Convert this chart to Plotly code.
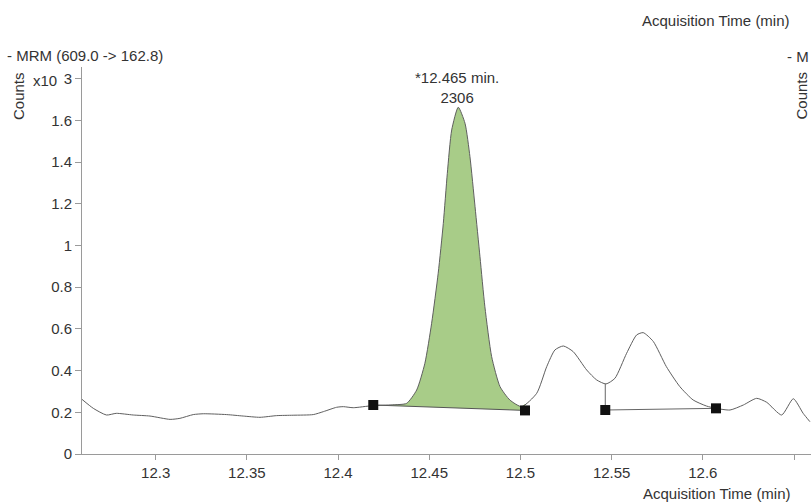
import numpy as np
import plotly.graph_objects as go

# ---- data ----
time_min = [12.2596, 12.2658, 12.2730, 12.2784, 12.2877, 12.2969, 12.3079, 12.3133,
            12.3206, 12.3261, 12.3389, 12.3480, 12.3572, 12.3663, 12.3754, 12.3864,
            12.3919, 12.3992, 12.4029, 12.4083, 12.4190, 12.4300, 12.4376, 12.4431,
            12.4476, 12.4513, 12.4549, 12.4577, 12.4599, 12.4623, 12.4659, 12.4696,
            12.4723, 12.4751, 12.4778, 12.4805, 12.4842, 12.4888, 12.4942, 12.5007,
            12.5089, 12.5144, 12.5189, 12.5235, 12.5289, 12.5363, 12.5418, 12.5469,
            12.5518, 12.5582, 12.5637, 12.5673, 12.5728, 12.5800, 12.5874, 12.5947,
            12.6020, 12.6072, 12.6149, 12.6222, 12.6295, 12.6350, 12.6432, 12.6496,
            12.6550, 12.6587]
counts_k = [0.262, 0.219, 0.187, 0.195, 0.187, 0.182, 0.166, 0.171,
            0.189, 0.193, 0.189, 0.182, 0.176, 0.184, 0.186, 0.189,
            0.203, 0.224, 0.227, 0.222, 0.232, 0.236, 0.243, 0.307,
            0.435, 0.627, 0.867, 1.106, 1.346, 1.554, 1.663, 1.586,
            1.426, 1.186, 0.946, 0.706, 0.467, 0.323, 0.259, 0.227,
            0.291, 0.419, 0.499, 0.518, 0.491, 0.403, 0.355, 0.336,
            0.363, 0.483, 0.571, 0.582, 0.540, 0.419, 0.323, 0.259,
            0.230, 0.219, 0.211, 0.235, 0.267, 0.248, 0.187, 0.265,
            0.195, 0.155]

# integrated peak baseline (start / end markers)
peak_base_t = [12.4193, 12.5025]
peak_base_v = [0.235, 0.209]
# second integration region baseline
peak2_base_t = [12.5465, 12.6072]
peak2_base_v = [0.211, 0.219]
drop_line_top = 0.336

peak_rt = 12.465
peak_area = 2306

x_ticks = [12.3, 12.35, 12.4, 12.45, 12.5, 12.55, 12.6, 12.65]
x_ticktext = ["12.3", "12.35", "12.4", "12.45", "12.5", "12.55", "12.6", ""]
y_ticks = [0, 0.2, 0.4, 0.6, 0.8, 1.0, 1.2, 1.4, 1.6, 1.8]
y_ticktext = ["0", "0.2", "0.4", "0.6", "0.8", "1", "1.2", "1.4", "1.6", "3"]

FONT = "Liberation Sans, Arial, sans-serif"
FS = 15
TXT = "#333333"
AX = "#9a9a9a"

t = np.array(time_min)
v = np.array(counts_k)

# peak segment for fill
mask = (t > peak_base_t[0]) & (t < peak_base_t[1])
seg_t = np.concatenate([[peak_base_t[0]], t[mask], [peak_base_t[1]]])
seg_v = np.concatenate([[np.interp(peak_base_t[0], t, v)], v[mask],
                        [np.interp(peak_base_t[1], t, v)]])

fig = go.Figure()

# baseline (for fill)
fig.add_trace(go.Scatter(x=peak_base_t, y=peak_base_v, mode="lines",
                         line=dict(color="#555555", width=1), hoverinfo="skip"))
fig.add_trace(go.Scatter(x=seg_t, y=seg_v, mode="lines", fill="tonexty",
                         fillcolor="#a8cc88",
                         line=dict(color="rgba(0,0,0,0)", width=0, shape="spline", smoothing=0.6),
                         hoverinfo="skip"))

# main chromatogram line
fig.add_trace(go.Scatter(x=time_min, y=counts_k, mode="lines",
                         line=dict(color="#5f5f5f", width=1, shape="spline", smoothing=0.6)))

# second baseline and drop line
fig.add_trace(go.Scatter(x=peak2_base_t, y=peak2_base_v, mode="lines",
                         line=dict(color="#666666", width=1)))
fig.add_trace(go.Scatter(x=[peak2_base_t[0], peak2_base_t[0]],
                         y=[peak2_base_v[0], drop_line_top], mode="lines",
                         line=dict(color="#666666", width=1)))

# markers
fig.add_trace(go.Scatter(x=peak_base_t + peak2_base_t, y=peak_base_v + peak2_base_v,
                         mode="markers",
                         marker=dict(symbol="square", size=10, color="#111111")))

fig.update_layout(
    width=811, height=502,
    margin=dict(l=82, r=0, t=67, b=48),
    paper_bgcolor="white", plot_bgcolor="white",
    showlegend=False,
    font=dict(family=FONT, size=FS, color=TXT),
    xaxis=dict(range=[12.2596, 12.6593], tickvals=x_ticks, ticktext=x_ticktext,
               showgrid=False, zeroline=False, showline=True, linecolor=AX, linewidth=1,
               ticks="outside", ticklen=5, tickcolor=AX,
               tickfont=dict(family=FONT, size=FS, color=TXT)),
    yaxis=dict(range=[0, 1.856], tickvals=y_ticks, ticktext=y_ticktext,
               showgrid=False, zeroline=False, showline=True, linecolor=AX, linewidth=1,
               ticks="outside", ticklen=6, tickcolor=AX,
               tickfont=dict(family=FONT, size=FS, color=TXT)),
)

ann = [
    dict(x=peak_rt, y=1.758, xref="x", yref="y", text=f"*{peak_rt} min.<br>{peak_area}",
         showarrow=False, xanchor="center", yanchor="middle"),
    dict(x=-0.1056, y=1.031, xref="paper", yref="paper", text="- MRM (609.0 -> 162.8)",
         showarrow=False, xanchor="left", yanchor="middle"),
    dict(x=-0.0878, y=0.925, xref="paper", yref="paper", text="Counts", textangle=-90,
         showarrow=False, xanchor="center", yanchor="middle"),
    dict(x=-0.0508, y=0.966, xref="paper", yref="paper", text="x10",
         showarrow=False, xanchor="center", yanchor="middle"),
    dict(x=0.974, y=1.1214, xref="paper", yref="paper", text="Acquisition Time (min)",
         showarrow=False, xanchor="right", yanchor="middle"),
    dict(x=0.975, y=-0.1008, xref="paper", yref="paper", text="Acquisition Time (min)",
         showarrow=False, xanchor="right", yanchor="middle"),
    dict(x=0.965, y=1.026, xref="paper", yref="paper", text="- M",
         showarrow=False, xanchor="left", yanchor="middle"),
    dict(x=0.987, y=0.925, xref="paper", yref="paper", text="Counts", textangle=-90,
         showarrow=False, xanchor="center", yanchor="middle"),
]
fig.update_layout(annotations=ann)

fig.write_html(
    "out.html",
    config={"displayModeBar": False},
    post_script="document.body.style.margin='0';document.body.style.overflow='hidden';",
)
